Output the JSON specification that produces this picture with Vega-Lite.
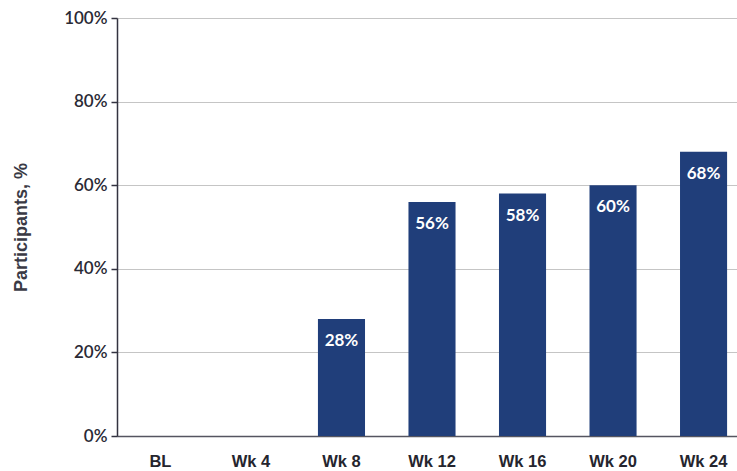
{
  "$schema": "https://vega.github.io/schema/vega-lite/v6.json",
  "autosize": "none",
  "padding": {"left": 117, "top": 18, "right": 0, "bottom": 35},
  "width": 630,
  "height": 418,
  "background": "white",
  "config": {
    "view": {"stroke": null},
    "font": "Lato"
  },
  "data": {
    "values": [
      {"week": "BL", "share": 0},
      {"week": "Wk 4", "share": 0},
      {"week": "Wk 8", "share": 0.28},
      {"week": "Wk 12", "share": 0.56},
      {"week": "Wk 16", "share": 0.58},
      {"week": "Wk 20", "share": 0.60},
      {"week": "Wk 24", "share": 0.68}
    ]
  },
  "encoding": {
    "x": {
      "field": "week",
      "type": "nominal",
      "sort": null,
      "scale": {"paddingInner": 0.48, "paddingOuter": 0.22},
      "axis": {
        "title": null,
        "labelAngle": 0,
        "labelFont": "Liberation Sans",
        "labelFontSize": 16.5,
        "labelFontWeight": "bold",
        "labelColor": "#25252e",
        "labelPadding": 17,
        "ticks": false,
        "domainColor": "#555560",
        "domainWidth": 1.5,
        "grid": false
      }
    },
    "y": {
      "field": "share",
      "type": "quantitative",
      "scale": {"domain": [0, 1], "nice": false},
      "axis": {
        "title": "Participants, %",
        "titleFont": "Liberation Sans",
        "titleFontSize": 18,
        "titleFontWeight": "bold",
        "titleColor": "#3a3a45",
        "titlePadding": 33,
        "values": [0, 0.2, 0.4, 0.6, 0.8, 1],
        "format": ".0%",
        "labelFont": "Lato",
        "labelFontSize": 17,
        "labelFontWeight": 600,
        "labelColor": "#2a2a35",
        "labelPadding": 4,
        "tickSize": 6,
        "tickColor": "#333340",
        "tickWidth": 1.5,
        "domainColor": "#333340",
        "domainWidth": 1.5,
        "grid": true,
        "gridColor": "#8a8a8a",
        "gridDash": [1, 1],
        "gridWidth": 1
      }
    }
  },
  "layer": [
    {
      "mark": {"type": "bar", "color": "#203e7a"}
    },
    {
      "transform": [{"filter": "datum.share > 0"}],
      "mark": {
        "type": "text",
        "color": "white",
        "font": "Lato",
        "fontSize": 17,
        "fontWeight": "bold",
        "baseline": "middle",
        "dy": 22
      },
      "encoding": {
        "text": {"field": "share", "type": "quantitative", "format": ".0%"}
      }
    }
  ]
}
